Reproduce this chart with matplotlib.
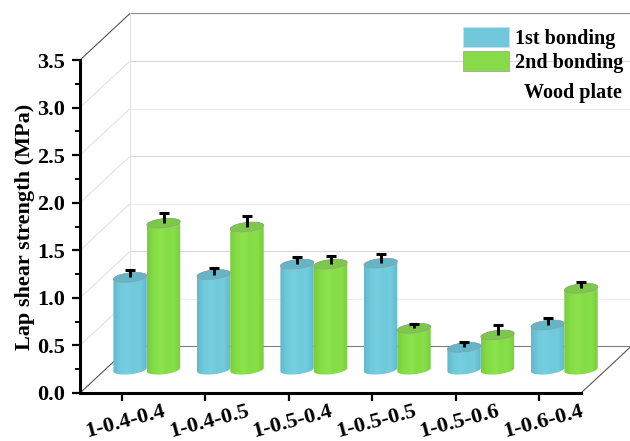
from matplotlib import pyplot as plt
from matplotlib.colors import LinearSegmentedColormap
from matplotlib.patches import Patch, Polygon
from matplotlib.transforms import ScaledTranslation
import numpy as np

samples = ["1-0.4-0.4", "1-0.4-0.5", "1-0.5-0.4", "1-0.5-0.5", "1-0.5-0.6", "1-0.6-0.4"]
first_bonding = [0.97, 1.00, 1.11, 1.12, 0.235, 0.47]
second_bonding = [1.54, 1.50, 1.11, 0.435, 0.365, 0.855]
first_err = [0.08, 0.07, 0.077, 0.095, 0.055, 0.07]
second_err = [0.105, 0.115, 0.08, 0.045, 0.105, 0.07]
y_ticks = [0.0, 0.5, 1.0, 1.5, 2.0, 2.5, 3.0, 3.5]
series_names = ["1st bonding", "2nd bonding"]
note = "Wood plate"

W, H = 630, 441
DEPTH_X = 0.6
DEPTH_Y = 0.49
BAR_W = 0.4

plt.rcParams["font.family"] = ["Liberation Serif"]
plt.rcParams["font.weight"] = "bold"

blue_map = LinearSegmentedColormap.from_list("b", ["#62B9CB", "#6FCADC", "#75CFE0", "#6FCADC", "#72CCDE", "#62B9CB"])
green_map = LinearSegmentedColormap.from_list("g", ["#7ACD3E", "#85DD45", "#8CE34B", "#85DD45", "#88E048", "#7ACD3E"])
blue_top = "#62B6C8"
green_top = "#7CC947"
blue_legend = "#70C8DA"
green_legend = "#88DB48"

fig = plt.figure(figsize=(W / 100, H / 100), dpi=100)
ax = fig.add_axes([80 / W, 1 - 393 / H, 501 / W, 333 / H])
ax.patch.set_alpha(0)


def wall_line(xs, ys, color, lw=0.8):
    ax.plot(xs, ys, color=color, lw=lw, clip_on=False, zorder=1, solid_capstyle="butt")


def draw_cylinder(x, v, err, cmap, top_color):
    a = BAR_W / 2
    b = 0.048
    tilt = 0.018
    base = DEPTH_Y / 2
    top = base + v
    t = np.linspace(0, 2 * np.pi, 80)
    t_low = np.linspace(np.pi, 2 * np.pi, 40)
    t_up = np.linspace(0, np.pi, 40)
    body = np.vstack([
        np.c_[x + a * np.cos(t_low), base + b * np.sin(t_low) + tilt * np.cos(t_low)],
        np.c_[x + a * np.cos(t_up), top + b * np.sin(t_up) + tilt * np.cos(t_up)],
    ])
    im = ax.imshow(np.linspace(0, 1, 64)[None, :], cmap=cmap, aspect="auto", zorder=3,
                   extent=[x - a, x + a, base - 0.1, top + 0.1])
    # the last bars stick out past the axes, so clip to the figure and the cylinder only
    im.set_clip_box(fig.bbox)
    im.set_clip_path(Polygon(body, transform=ax.transData))
    cap = np.c_[x + a * np.cos(t), top + b * np.sin(t) + tilt * np.cos(t)]
    ax.add_patch(Polygon(cap, facecolor=top_color, edgecolor="#9a9a9a", lw=0.5, zorder=3, clip_on=False))
    _, caps, _ = ax.errorbar([x], [top], yerr=[[0], [err]], color="black", elinewidth=2.1, capsize=3.4,
                             capthick=2.2, zorder=3, clip_on=False)
    caps[0].set_visible(False)


# walls and floor
grid_colors = ["#7f7f7f", "#ececec", "#d8d8d8", "#ececec", "#d8d8d8", "#ececec", "#d8d8d8", "#8a8a8a"]
for v, c in zip(y_ticks, grid_colors):
    wall_line([-0.5 + DEPTH_X, 5.5 + DEPTH_X], [v + DEPTH_Y, v + DEPTH_Y], c)
    side = "#555555" if v in (0.0, 3.5) else "#e2e2e2"
    wall_line([-0.5, -0.5 + DEPTH_X], [v, v + DEPTH_Y], side)
wall_line([-0.5 + DEPTH_X] * 2, [DEPTH_Y, 3.5 + DEPTH_Y], "#e2e2e2")
wall_line([5.5 + DEPTH_X] * 2, [DEPTH_Y, 3.5 + DEPTH_Y], "#e2e2e2")
wall_line([5.5, 5.5 + DEPTH_X], [0, DEPTH_Y], "#555555")

for i in range(len(samples)):
    draw_cylinder(i + DEPTH_X / 2 - BAR_W / 2, first_bonding[i], first_err[i], blue_map, blue_top)
    draw_cylinder(i + DEPTH_X / 2 + BAR_W / 2, second_bonding[i], second_err[i], green_map, green_top)

ax.set_xlim(-0.5, 5.5)
ax.set_ylim(0, 3.5)
ax.spines["top"].set_visible(False)
ax.spines["right"].set_visible(False)
ax.spines["left"].set_linewidth(2.2)
ax.spines["bottom"].set_linewidth(2.2)
ax.set_xticks(range(len(samples)))
ax.set_xticklabels(samples, rotation=15, fontsize=16, ha="center", va="center", rotation_mode="anchor")
ax.set_yticks(y_ticks)
ax.set_yticklabels(["%.1f" % v for v in y_ticks], fontsize=16)
ax.set_yticks(np.array(y_ticks[:-1]) + 0.25, minor=True)
ax.tick_params(axis="both", which="major", length=6, width=1.6)
ax.tick_params(axis="y", which="major", pad=4.5)
ax.tick_params(axis="x", pad=14.5)
ax.tick_params(axis="y", which="minor", length=3.5, width=1.4)
ax.set_ylabel("Lap shear strength (MPa)", fontsize=16, fontweight="bold", labelpad=2)

# labels sit a little right of their ticks, has to come after tick_params
shift = ScaledTranslation(4 / 100, 0, fig.dpi_scale_trans)
for lab in ax.get_xticklabels():
    lab.set_transform(lab.get_transform() + shift)

handles = [Patch(facecolor=blue_legend, edgecolor="#c8e4ea", lw=0.5),
           Patch(facecolor=green_legend, edgecolor="#9a9a9a", lw=0.5)]
leg = fig.legend(handles, series_names, loc="upper left", bbox_to_anchor=(463 / W, 1 - 27 / H),
                 frameon=False, fontsize=14.5, handlelength=2.28, handleheight=1.15,
                 labelspacing=0.1, handletextpad=0.3, borderpad=0, borderaxespad=0)
fig.text(622 / W, 1 - 93 / H, note, fontsize=14.5, ha="right", va="center")

fig.savefig("out.png", dpi=100)
